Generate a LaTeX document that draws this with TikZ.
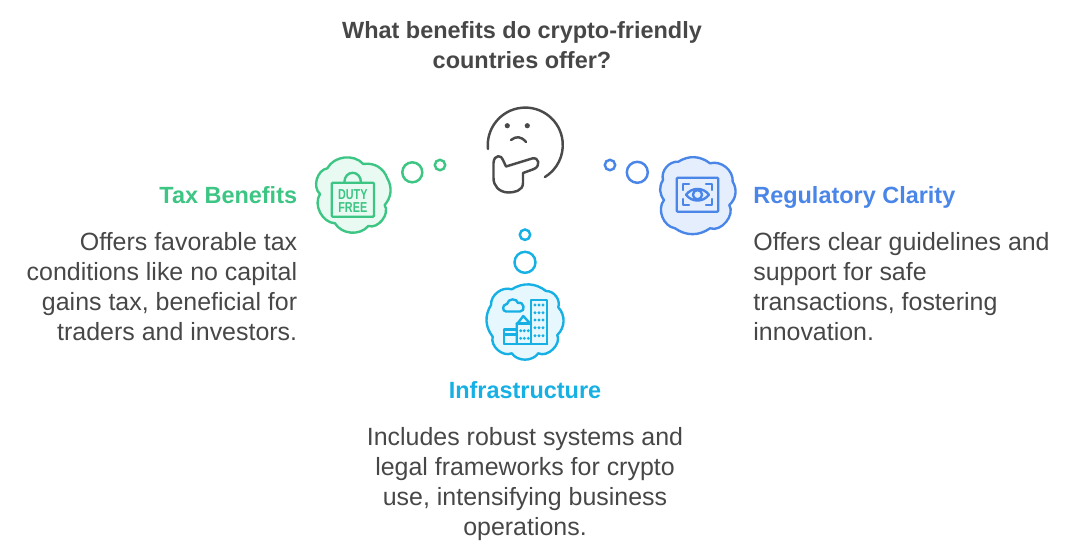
\documentclass[tikz,border=0pt]{standalone}
\usepackage{fontspec}
\setmainfont{Liberation Sans}
\usetikzlibrary{positioning}
\definecolor{textc}{HTML}{474747}
\definecolor{facec}{HTML}{4A4A4A}
\definecolor{taxc}{HTML}{3CC583}
\definecolor{taxfill}{HTML}{E9FAF3}
\definecolor{regc}{HTML}{4A85E8}
\definecolor{regfill}{HTML}{E4EEFD}
\definecolor{infrac}{HTML}{16B0E4}
\definecolor{infrafill}{HTML}{E6F7FE}
\newcommand{\bodyfont}{\fontsize{14.2}{17.07}\selectfont}
\newcommand{\headfont}{\fontsize{13.35}{17.07}\selectfont\bfseries}

\begin{document}
\begin{tikzpicture}[
  x=0.02cm, y=-0.02cm,
  node distance=0.46cm,
  title/.style={font=\headfont, text=textc, align=center, inner sep=0pt},
  head/.style={font=\headfont, inner sep=0pt, text height=10pt, text depth=3pt},
  desc/.style={font=\bodyfont, text=textc, inner sep=0pt},
  cloudline/.style={line width=1.35pt, line join=round},
  lobe/.style={bend left=#1},
  lobe/.default=55,
  bubble/.style={line width=1.4pt},
  icon/.style={line width=1.35pt, line join=round, line cap=round},
  face/.style={line width=1.4pt, draw=facec, line cap=round, line join=round}
]
  \useasboundingbox (0,0) rectangle (1080,556);

  \node[title] (question) at (522,45) {What benefits do crypto-friendly\\countries offer?};

  % thinking face
  \fill[facec] (507.3,125.7) circle (2.6) (527.3,125.7) circle (2.6);
  \draw[face] (488,149) arc[start angle=174, end angle=418.5, radius=37.5];
  \draw[face] (511,140) .. controls (516,136) and (521,136) .. (526,142);
  \draw[face] (506,166.5) -- (532,158.5) .. controls (539,156.5) and (541,166) .. (534,169)
    -- (523,173) -- (523,183) .. controls (523,191) and (514,192.5) .. (508,192.5)
    .. controls (499,192) and (493.5,186) .. (493.5,178) -- (493.5,163)
    .. controls (494,154) and (502,155) .. (503,160) -- cycle;

  % tax benefits
  \draw[taxc, fill=white, bubble] (412.3,172.3) circle (10) (440,165) circle (5.2);
  \draw[taxc, fill=taxfill, cloudline] (327.3,168.3) to[lobe] (363.3,164) to[lobe=40] (387.3,178.3)
    to[lobe=35] (384.7,205) to[lobe=70] (368.3,226) to[lobe] (335,223.3) to[lobe=60] (320,194)
    to[lobe=65] (327.3,168.3) -- cycle;
  \draw[taxc, icon, rounded corners=0.6pt] (331.7,182.7) rectangle (374,216.7);
  \draw[taxc, icon] (344.3,182.7) .. controls (344.3,169.5) and (361,169.5) .. (361,182.7);
  \node[font=\fontsize{8.2}{7.6}\selectfont\bfseries, text=taxc, align=center, inner sep=0pt, xscale=0.75] (dutyfree) at (352.8,201) {DUTY\\FREE};

  % regulatory clarity
  \draw[regc, fill=white, bubble] (637.3,172.3) circle (10.5) (610,165) circle (5.2);
  \draw[regc, fill=regfill, cloudline] (678.3,161.7) to[lobe=35] (710,163.3) to[lobe] (732.7,181.7)
    to[lobe=40] (729.3,205) to[lobe=70] (710,228.3) to[lobe=35] (675,228.3) to[lobe=60] (664,200)
    to[lobe=35] (663,180) to[lobe] (678.3,161.7) -- cycle;
  \draw[regc, icon, rounded corners=0.6pt] (676.7,177.7) rectangle (718.3,211.7);
  \draw[regc, icon] (683,190) -- (683,184) -- (689,184) (706,184) -- (712,184) -- (712,190)
    (712,199) -- (712,205) -- (706,205) (689,205) -- (683,205) -- (683,199);
  \draw[regc, icon] (686,194.7) .. controls (692,187) and (703,187) .. (709,194.7)
    .. controls (703,202.5) and (692,202.5) .. (686,194.7) -- cycle;
  \draw[regc, icon] (697.5,194.7) circle (4.6);

  % infrastructure
  \draw[infrac, fill=white, bubble] (525,262.3) circle (10.5) (525,234.7) circle (5.2);
  \draw[infrac, fill=infrafill, cloudline] (511.7,289.3) to[lobe=35] (546,291) to[lobe] (558.3,307.3)
    to[lobe=45] (557.3,335) to[lobe=70] (538.3,353.3) to[lobe] (511.7,353.3) to[lobe=65] (492.7,336.7)
    to[lobe=35] (491,305) to[lobe] (511.7,289.3) -- cycle;
  \draw[infrac, icon] (531,300.3) rectangle (547.3,344);
  \draw[infrac, icon] (516.7,344) -- (516.7,324.5) -- (523.3,316) -- (531,324.5);
  \draw[infrac, icon] (516.7,323.5) -- (531,323.5);
  \draw[infrac, icon] (504.3,344) rectangle (516.7,329.5) (504.3,334.5) -- (516.7,334.5);
  \draw[infrac, icon] (504.3,344) -- (547.3,344);
  \draw[infrac, icon] (506,311.5) .. controls (502,311.5) and (502,304) .. (507,304)
    .. controls (508,298) and (517,298) .. (518,303) .. controls (524,301) and (526,311.5) .. (520,311.5) -- cycle;
  \foreach \wy in {305,312.7,320,327.7,335.7} {
    \foreach \wx in {535,539,543} {
      \fill[infrac] (\wx,\wy) circle (1.6);
    }
  }
  \foreach \wy in {330.7,338.3} {
    \foreach \wx in {520.7,524.3,528.3} {
      \fill[infrac] (\wx,\wy) circle (1.6);
    }
  }

  % labels
  \node[head, text=taxc, anchor=base east] (taxhead) at (297.5,203) {Tax Benefits};
  \node[desc, align=right, below=of taxhead.south east, anchor=north east] (taxdesc)
    {Offers favorable tax\\conditions like no capital\\gains tax, beneficial for\\traders and investors.};
  \node[head, text=regc, anchor=base west] (reghead) at (753,203) {Regulatory Clarity};
  \node[desc, align=left, below=of reghead.south west, anchor=north west] (regdesc)
    {Offers clear guidelines and\\support for safe\\transactions, fostering\\innovation.};
  \node[head, text=infrac, anchor=base] (infrahead) at (525,398) {Infrastructure};
  \node[desc, align=center, below=of infrahead] (infradesc)
    {Includes robust systems and\\legal frameworks for crypto\\use, intensifying business\\operations.};
\end{tikzpicture}
\end{document}
